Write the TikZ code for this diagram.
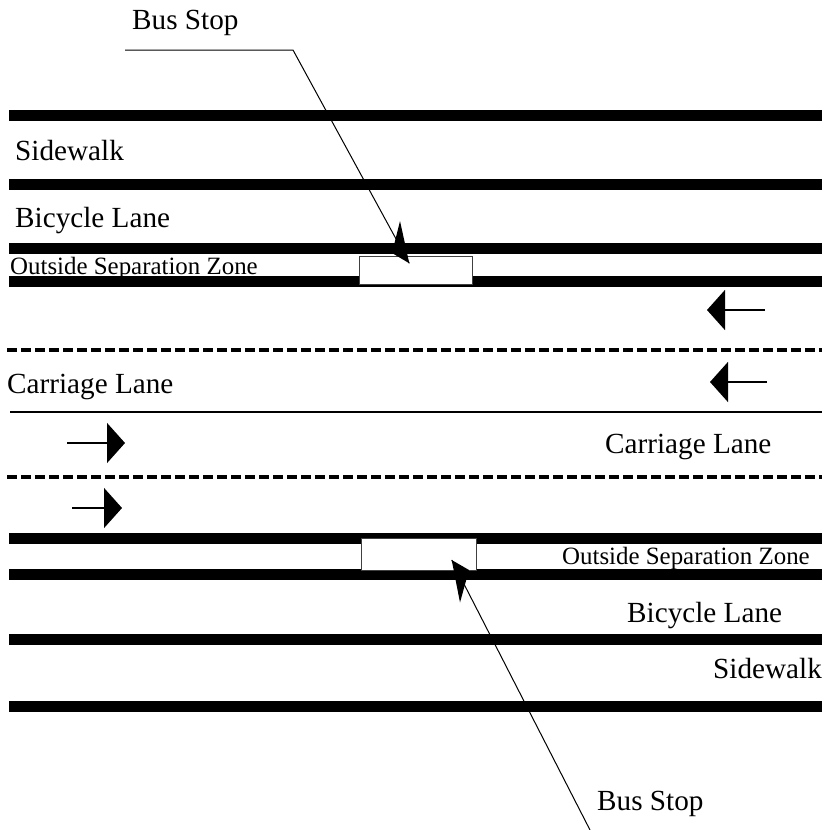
\documentclass[tikz,border=0pt]{standalone}
\usepackage{fontspec}
\setmainfont{Liberation Serif}
\usetikzlibrary{arrows.meta}
\begin{document}
\begin{tikzpicture}[x=1pt,y=-1pt,
  road/.style={line width=11pt},
  lanedash/.style={line width=4pt, dash pattern=on 9.5pt off 4.5pt},
  lbl/.style={anchor=base west, inner sep=0pt, font=\fontsize{29.2}{31}\selectfont},
  smalllbl/.style={anchor=base west, inner sep=0pt, font=\fontsize{24.9}{26}\selectfont},
  flow/.style={line width=1.5pt, -{Triangle[length=18pt,width=40pt]}},
  stopbox/.style={draw=black!75, line width=1pt, fill=white, inner sep=0pt, outer sep=0pt, anchor=north west},
  leader/.style={line width=1pt, draw=black}]
\useasboundingbox (0,0) rectangle (826,830);
% kerb and zone lines
\foreach \y in {115,184,248,281.5,538,574,639.5,706}
  \draw[road] (9,\y) -- (822,\y);
% lane markings
\draw[lanedash] (7,349.5) -- (822,349.5);
\draw[lanedash] (7,477) -- (822,477);
\draw[line width=1.5pt] (10,412) -- (822,412);
% traffic direction arrows
\draw[flow] (765,310) -- (707,310);
\draw[flow] (767,382) -- (710,382);
\draw[flow] (67,443) -- (125,443);
\draw[flow] (72,508) -- (122,508);
% bus stop boxes
\node (stopA) [stopbox, minimum width=113pt, minimum height=28pt] at (359,256) {};
\node (stopB) [stopbox, minimum width=115pt, minimum height=32pt] at (361,538) {};
% labels
\node (busA) [lbl] at (132,29) {Bus Stop};
\node (sideA) [lbl] at (15,160) {Sidewalk};
\node (bikeA) [lbl] at (15,227) {Bicycle Lane};
\node (zoneA) [smalllbl] at (10,274) {Outside Separation Zone};
\node (carA) [lbl] at (7,393) {Carriage Lane};
\node (carB) [lbl] at (605,453) {Carriage Lane};
\node (zoneB) [smalllbl] at (562,564) {Outside Separation Zone};
\node (bikeB) [lbl] at (627,622) {Bicycle Lane};
\node (sideB) [lbl] at (713,678) {Sidewalk};
\node (busB) [lbl] at (597,810) {Bus Stop};
% leaders
\coordinate (legA) at (125,50);
\coordinate (kneeA) at (293,50);
\coordinate (tipA) at (409.3,263.3);
\draw[leader] (legA) -- (kneeA) -- (tipA);
\fill (400,221) -- (392,253) -- (tipA) -- cycle;
\coordinate (tipB) at (451.7,560);
\coordinate (endB) at (590,830);
\draw[leader] (tipB) -- (endB);
\fill (tipB) -- (469,570) -- (460,602.5) -- cycle;
\end{tikzpicture}
\end{document}
